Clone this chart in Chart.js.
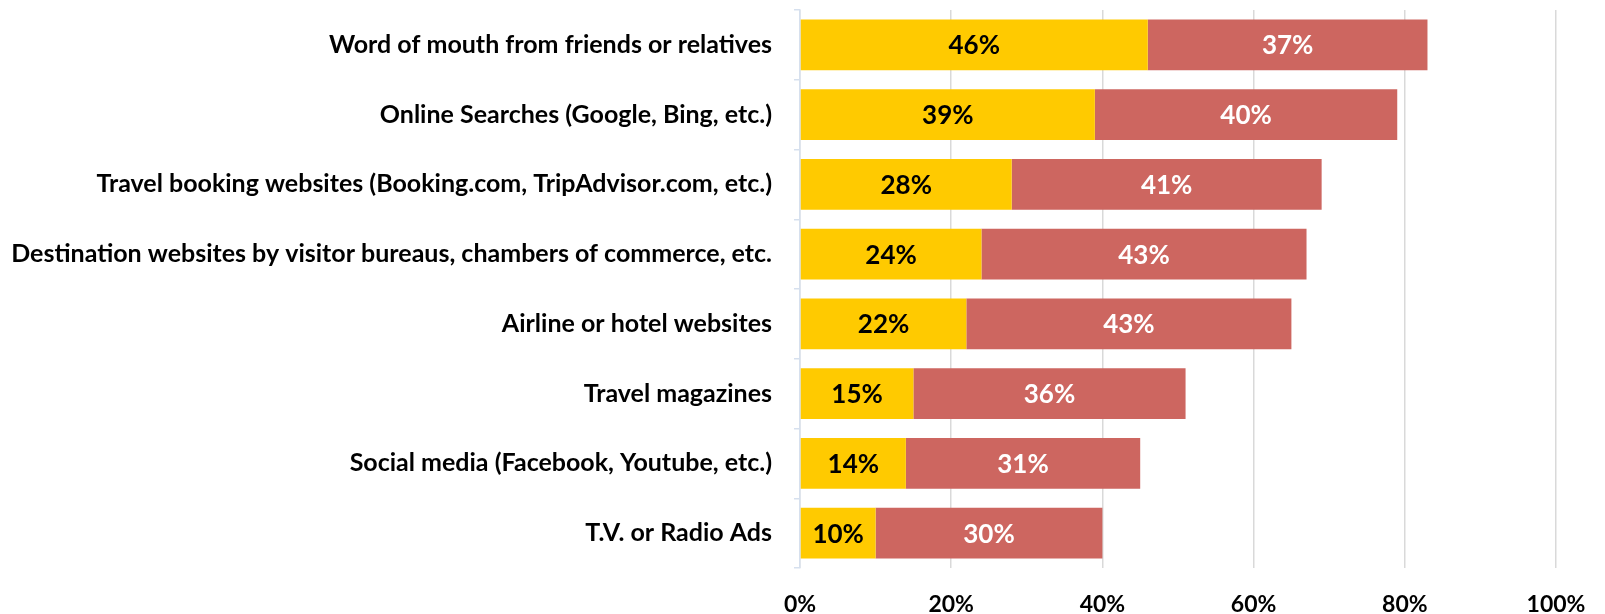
<!DOCTYPE html>
<html>
<head>
<meta charset="utf-8">
<script src="https://cdn.jsdelivr.net/npm/chart.js@4/dist/chart.umd.min.js"></script>
<style>
  html, body { margin: 0; padding: 0; background: #ffffff; }
  #wrap { width: 1605px; height: 614px; }
</style>
</head>
<body>
<div id="wrap"><canvas id="c" width="1605" height="614"></canvas></div>
<script>
const categories = [
  'Word of mouth from friends or relatives',
  'Online Searches (Google, Bing, etc.)',
  'Travel booking websites (Booking.com, TripAdvisor.com, etc.)',
  'Destination websites by visitor bureaus, chambers of commerce, etc.',
  'Airline or hotel websites',
  'Travel magazines',
  'Social media (Facebook, Youtube, etc.)',
  'T.V. or Radio Ads'
];
const primaryShare = [46, 39, 28, 24, 22, 15, 14, 10];
const secondaryShare = [37, 40, 41, 43, 43, 36, 31, 30];
const xTicks = [0, 20, 40, 60, 80, 100];

const FONT = 'Lato, "Open Sans", sans-serif';

// Writes each segment's value in the middle of its bar
const segmentLabels = {
  id: 'segmentLabels',
  afterDatasetsDraw(chart) {
    const ctx = chart.ctx;
    ctx.save();
    ctx.font = 'bold 26px ' + FONT;
    ctx.textAlign = 'center';
    ctx.textBaseline = 'middle';
    chart.data.datasets.forEach((ds, i) => {
      const meta = chart.getDatasetMeta(i);
      ctx.fillStyle = ds.labelColor;
      meta.data.forEach((bar, j) => {
        const cx = (bar.x + bar.base) / 2;
        ctx.fillText(ds.data[j] + '%', cx, bar.y + 1);
      });
    });
    ctx.restore();
  }
};

new Chart(document.getElementById('c'), {
  type: 'bar',
  data: {
    labels: categories,
    datasets: [
      { data: primaryShare, backgroundColor: '#FFCA00', labelColor: '#000000',
        barPercentage: 0.73, categoryPercentage: 1 },
      { data: secondaryShare, backgroundColor: '#CD6660', labelColor: '#ffffff',
        barPercentage: 0.73, categoryPercentage: 1 }
    ]
  },
  options: {
    indexAxis: 'y',
    responsive: false,
    animation: false,
    layout: { padding: { top: 10, right: 49, left: 0, bottom: 0 } },
    plugins: { legend: { display: false }, tooltip: { enabled: false } },
    scales: {
      x: {
        stacked: true,
        min: 0, max: 100,
        afterBuildTicks(scale) { scale.ticks = xTicks.map(v => ({ value: v })); },
        afterFit(scale) { scale.height = 46; scale.paddingLeft = 0; scale.paddingRight = 0; },
        ticks: {
          callback: v => v + '%',
          color: '#000000',
          font: { family: FONT, size: 23, weight: 'bold' },
          padding: 23,
          maxRotation: 0
        },
        grid: { color: '#d9d9d9', lineWidth: 1.5, drawTicks: false },
        border: { display: false }
      },
      y: {
        stacked: true,
        afterFit(scale) { scale.width = 800; scale.paddingTop = 0; scale.paddingBottom = 0; },
        ticks: {
          color: '#000000',
          font: { family: FONT, size: 25, weight: 'bold' },
          padding: 22
        },
        grid: { drawOnChartArea: false, color: '#d6e0ee', tickLength: 6, lineWidth: 1.5 },
        border: { display: true, color: '#d6e0ee', width: 1.5 }
      }
    }
  },
  plugins: [segmentLabels]
});
</script>
</body>
</html>
